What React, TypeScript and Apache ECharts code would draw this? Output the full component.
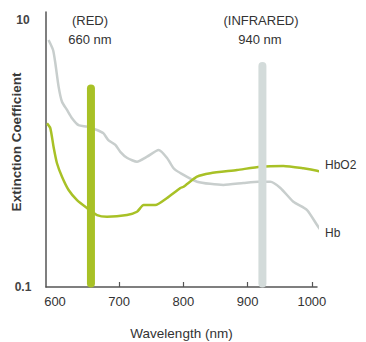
import React, { useEffect, useRef } from "react";
import * as echarts from "echarts";

// Wavelength (nm) / extinction coefficient samples
const hbWavelength = [590, 597, 600.5, 605.6, 610.9, 618.7, 626.5, 636.8, 649.8, 665.4, 675.2, 683, 694, 701.7, 712.6, 727.7, 743.3, 761.4, 774.5, 784.3, 795.2, 821.2, 862.1, 893.3, 916.7, 935.4, 951, 971.2, 992.5, 1008.1, 1021];
const hbValues = [7.08, 5.96, 4.76, 3.17, 2.44, 2.12, 1.84, 1.63, 1.59, 1.5, 1.42, 1.26, 1.16, 1.03, 0.925, 0.868, 0.946, 1.06, 0.925, 0.779, 0.714, 0.615, 0.581, 0.601, 0.615, 0.615, 0.552, 0.435, 0.377, 0.291, 0.238];

const hbo2Wavelength = [587.5, 592.7, 597.8, 603.1, 610.9, 621.2, 634.3, 649.8, 665.4, 681, 712.1, 727.7, 738, 756.2, 774.5, 795.2, 800.3, 821.2, 841.9, 883.5, 919.8, 955.6, 986.8, 1008.1, 1021];
const hbo2Values = [1.68, 1.55, 1.12, 0.845, 0.67, 0.533, 0.448, 0.391, 0.346, 0.336, 0.346, 0.366, 0.411, 0.411, 0.464, 0.552, 0.564, 0.67, 0.711, 0.752, 0.796, 0.806, 0.774, 0.743, 0.711];

// Marker bars: wavelength position and value range
const redBar = { wavelength: 656, from: 0.106, to: 3.07 };
const irBar = { wavelength: 923, from: 0.106, to: 4.52 };

const xLabelValues = [600, 700, 800, 900, 1000];
const xTickValues = [700, 800, 900, 1000];
const yLabelValues = [0.1, 10];

const FONT = "'Liberation Sans', Arial, Helvetica, sans-serif";
const GREEN = "#a8c126";
const GRAY_BAR = "#d3dbda";
const GRAY_LINE = "#c8cecd";
const TEXT = "#333333";

export default function App() {
  const ref = useRef<HTMLDivElement>(null);
  useEffect(() => {
    if (!ref.current) return;
    const chart = echarts.init(ref.current, null, { renderer: "svg" });
    const zip = (xs: number[], ys: number[]) => xs.map((x, i) => [x, ys[i]]);
    const t = (text: string, x: number, y: number) => ({
      type: "text",
      x,
      y,
      style: { text, font: `13px ${FONT}`, fill: TEXT, textAlign: "center", textVerticalAlign: "middle" },
    });
    chart.setOption({
      animation: false,
      backgroundColor: "#ffffff",
      textStyle: { fontFamily: FONT },
      grid: { left: 46, right: 49, top: 12, bottom: 55, containLabel: false, outerBoundsMode: "none" },
      xAxis: {
        type: "value",
        min: 586,
        max: 1008,
        name: "Wavelength (nm)",
        nameLocation: "middle",
        nameGap: 39,
        nameMoveOverlap: false,
        nameTextStyle: { fontFamily: FONT, fontSize: 13.5, color: TEXT },
        axisLine: { show: true, lineStyle: { color: "#555555", width: 1.5 } },
        axisTick: { show: true, inside: true, length: 5, customValues: xTickValues, lineStyle: { color: "#555555", width: 1.2 } },
        axisLabel: {
          customValues: xLabelValues,
          fontFamily: FONT,
          fontSize: 13,
          color: TEXT,
          margin: 8,
          formatter: (v: number) => String(Math.round(v)),
        },
        splitLine: { show: false },
      },
      yAxis: {
        type: "log",
        logBase: 10,
        min: 0.1,
        max: 11.48,
        axisLine: { show: true, lineStyle: { color: "#555555", width: 1.5 } },
        axisTick: { show: false },
        splitLine: { show: false },
        axisLabel: {
          fontFamily: FONT,
          fontSize: 12,
          fontWeight: "bold",
          color: "#444444",
          align: "center",
          margin: 23,
          formatter: (v: number) => {
            for (const tv of yLabelValues) if (Math.abs(v - tv) / tv < 1e-6) return String(tv);
            return "";
          },
        },
      },
      graphic: [
        t("(RED)", 90, 20),
        t("660 nm", 90, 39),
        t("(INFRARED)", 261, 20),
        t("940 nm", 260, 39),
        {
          type: "text",
          x: 16,
          y: 142,
          rotation: Math.PI / 2,
          style: {
            text: "Extinction Coefficient",
            font: `bold 13.5px ${FONT}`,
            fill: "#3a3a3a",
            textAlign: "center",
            textVerticalAlign: "middle",
          },
        },
      ],
      series: [
        {
          name: "Hb",
          type: "line",
          data: zip(hbWavelength, hbValues),
          clip: false,
          showSymbol: false,
          symbol: "none",
          smooth: 0.2,
          lineStyle: { color: GRAY_LINE, width: 2.5 },
          z: 2,
          endLabel: { show: true, formatter: "Hb", color: TEXT, fontFamily: FONT, fontSize: 12, distance: 6, offset: [0, 5] },
        },
        {
          name: "HbO2",
          type: "line",
          data: zip(hbo2Wavelength, hbo2Values),
          clip: false,
          showSymbol: false,
          symbol: "none",
          smooth: 0.2,
          lineStyle: { color: GREEN, width: 2.5 },
          z: 3,
          endLabel: { show: true, formatter: "HbO2", color: TEXT, fontFamily: FONT, fontSize: 12, distance: 6, offset: [0, -6] },
        },
        {
          name: "red",
          type: "line",
          data: [[redBar.wavelength, redBar.from], [redBar.wavelength, redBar.to]],
          showSymbol: false,
          symbol: "none",
          silent: true,
          lineStyle: { color: GREEN, width: 8, cap: "round" },
          z: 4,
        },
        {
          name: "ir",
          type: "line",
          data: [[irBar.wavelength, irBar.from], [irBar.wavelength, irBar.to]],
          showSymbol: false,
          symbol: "none",
          silent: true,
          lineStyle: { color: GRAY_BAR, width: 8, cap: "round" },
          z: 4,
        },
      ],
    });
    return () => chart.dispose();
  }, []);
  return <div ref={ref} style={{ position: "fixed", left: 0, top: 0, width: 366, height: 342 }} />;
}
